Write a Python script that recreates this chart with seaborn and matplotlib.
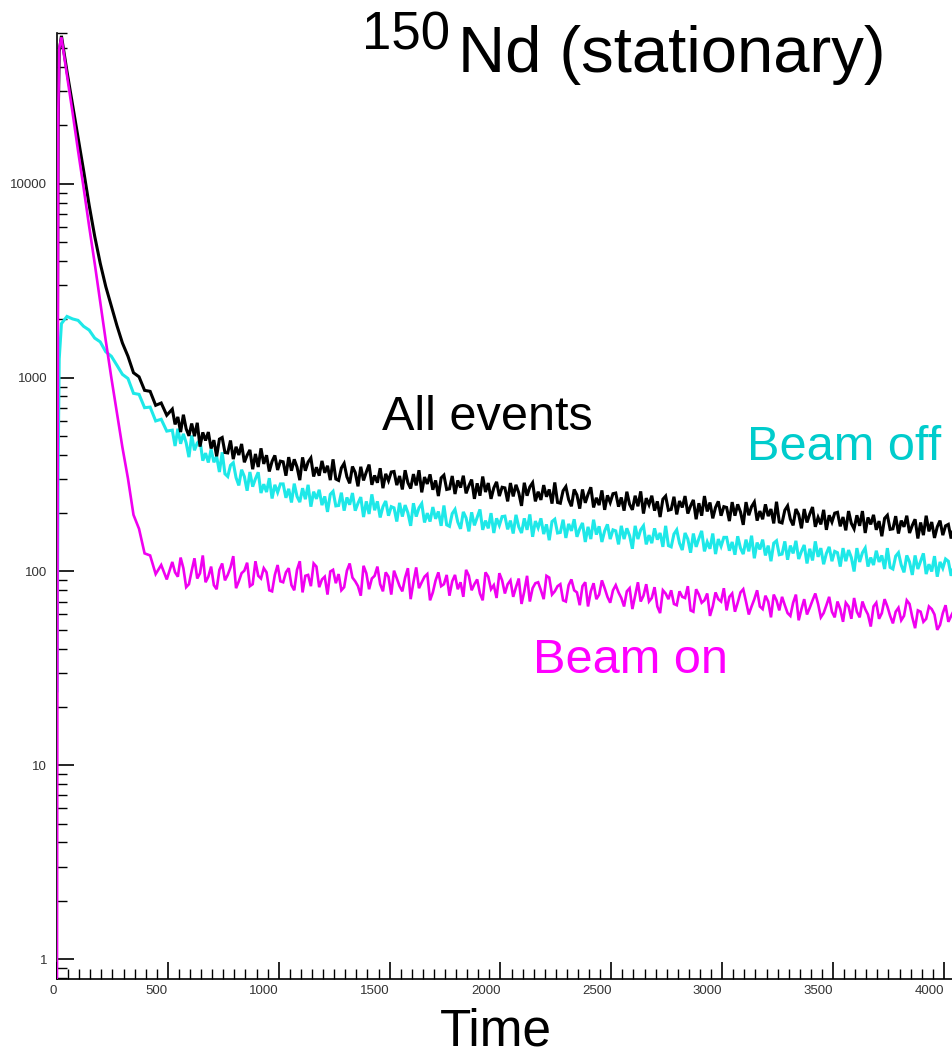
import matplotlib
matplotlib.use("Agg")
import matplotlib.pyplot as plt
import seaborn as sns
import pandas as pd
from matplotlib import ticker

# time bins (channels)
time = [
    0, 5, 10,
    20, 45, 70, 95, 120, 145, 170, 195, 220, 245,
    270, 295, 320, 345, 370, 395, 420, 445, 470, 495,
    520, 545, 570, 595, 620, 645, 670, 695, 720, 745,
    770, 795, 820, 845, 870, 895, 920, 945, 970, 995,
    1020, 1045, 1070, 1095, 1120, 1145, 1170, 1195, 1220, 1245,
    1270, 1295, 1320, 1345, 1370, 1395, 1420, 1445, 1470, 1495,
    1520, 1545, 1570, 1595, 1620, 1645, 1670, 1695, 1720, 1745,
    1770, 1795, 1820, 1845, 1870, 1895, 1920, 1945, 1970, 1995,
    2020, 2045, 2070, 2095, 2120, 2145, 2170, 2195, 2220, 2245,
    2270, 2295, 2320, 2345, 2370, 2395, 2420, 2445, 2470, 2495,
    2520, 2545, 2570, 2595, 2620, 2645, 2670, 2695, 2720, 2745,
    2770, 2795, 2820, 2845, 2870, 2895, 2920, 2945, 2970, 2995,
    3020, 3045, 3070, 3095, 3120, 3145, 3170, 3195, 3220, 3245,
    3270, 3295, 3320, 3345, 3370, 3395, 3420, 3445, 3470, 3495,
    3520, 3545, 3570, 3595, 3620, 3645, 3670, 3695, 3720, 3745,
    3770, 3795, 3820, 3845, 3870, 3895, 3920, 3945, 3970, 3995,
    4020, 4045,
]

all_events = [
    280, 20000, 48000,
    58000, 38000, 25700, 17400, 11700, 7760, 5370, 3890, 2950, 2340,
    1860, 1510, 1290, 1060, 1010, 860, 850, 720, 740, 640,
    688, 627, 644, 501, 499, 441, 474, 431, 393, 491,
    409, 380, 399, 366, 424, 404, 432, 398, 370, 334,
    368, 389, 379, 296, 331, 385, 345, 372, 351, 379,
    295, 361, 285, 324, 347, 326, 280, 287, 269, 294,
    328, 311, 333, 268, 278, 256, 283, 264, 245, 314,
    267, 251, 271, 253, 298, 285, 309, 286, 270, 245,
    270, 286, 280, 218, 246, 287, 258, 279, 265, 288,
    225, 274, 217, 248, 265, 250, 214, 220, 208, 227,
    254, 241, 258, 208, 217, 199, 221, 206, 191, 245,
    209, 197, 214, 199, 234, 225, 245, 227, 214, 194,
    214, 228, 222, 174, 195, 228, 205, 222, 210, 229,
    178, 218, 173, 197, 210, 198, 170, 175, 164, 180,
    202, 191, 205, 166, 172, 158, 175, 164, 152, 195,
    166, 157, 170, 158, 186, 179, 194, 180, 170, 154,
    175, 169,
]

beam_off = [
    24, 340, 1250,
    1900, 2070, 2010, 1975, 1840, 1760, 1600, 1530, 1360, 1290,
    1160, 1040, 990, 830, 820, 700, 705, 598, 610, 530,
    536, 545, 513, 389, 422, 475, 408, 427, 392, 412,
    309, 364, 278, 309, 326, 301, 254, 257, 238, 256,
    283, 267, 284, 228, 236, 216, 237, 220, 203, 259,
    219, 206, 221, 206, 242, 230, 250, 230, 216, 194,
    213, 226, 220, 172, 192, 224, 200, 215, 204, 219,
    171, 209, 166, 189, 202, 190, 164, 167, 158, 173,
    193, 183, 196, 158, 164, 151, 168, 156, 145, 186,
    159, 149, 162, 151, 178, 170, 185, 171, 162, 147,
    162, 172, 167, 131, 147, 172, 154, 167, 158, 172,
    134, 164, 129, 147, 157, 148, 127, 131, 123, 135,
    150, 142, 152, 123, 127, 117, 130, 121, 113, 144,
    123, 115, 124, 116, 137, 131, 143, 132, 124, 113,
    125, 132, 129, 100, 112, 132, 118, 128, 121, 132,
    103, 125, 99, 112, 121, 113, 97, 100, 94, 104,
    113, 107,
]

beam_on = [
    0.8, 20000, 50000,
    57000, 36300, 23400, 14800, 9550, 6030, 3890, 2450, 1550, 1000,
    660, 437, 302, 196, 166, 124, 121, 97, 108, 91,
    112, 94, 104, 86, 117, 98, 88, 106, 81, 110,
    96, 120, 89, 101, 84, 113, 92, 99, 79, 108,
    88, 104, 80, 113, 95, 84, 106, 91, 76, 102,
    97, 83, 110, 89, 75, 98, 92, 106, 79, 94,
    101, 84, 93, 72, 105, 88, 97, 78, 99, 86,
    75, 96, 88, 102, 80, 91, 71, 94, 85, 98,
    77, 90, 83, 68, 95, 82, 88, 72, 93, 79,
    86, 70, 91, 78, 84, 66, 87, 76, 82, 69,
    85, 73, 79, 64, 88, 75, 70, 83, 61, 77,
    80, 67, 74, 84, 62, 76, 71, 59, 78, 70,
    63, 77, 69, 81, 60, 72, 66, 75, 58, 71,
    74, 61, 69, 56, 72, 65, 77, 58, 67, 62,
    70, 55, 66, 73, 58, 64, 52, 69, 61, 66,
    54, 65, 59, 68, 51, 62, 57, 64, 50, 61,
    55, 63,
]

# in-between channels of the flat, noisy part
time_mid = [
    532.5, 557.5, 582.5, 607.5, 632.5, 657.5, 682.5, 707.5, 732.5, 757.5,
    782.5, 807.5, 832.5, 857.5, 882.5, 907.5, 932.5, 957.5, 982.5, 1007.5,
    1032.5, 1057.5, 1082.5, 1107.5, 1132.5, 1157.5, 1182.5, 1207.5, 1232.5, 1257.5,
    1282.5, 1307.5, 1332.5, 1357.5, 1382.5, 1407.5, 1432.5, 1457.5, 1482.5, 1507.5,
    1532.5, 1557.5, 1582.5, 1607.5, 1632.5, 1657.5, 1682.5, 1707.5, 1732.5, 1757.5,
    1782.5, 1807.5, 1832.5, 1857.5, 1882.5, 1907.5, 1932.5, 1957.5, 1982.5, 2007.5,
    2032.5, 2057.5, 2082.5, 2107.5, 2132.5, 2157.5, 2182.5, 2207.5, 2232.5, 2257.5,
    2282.5, 2307.5, 2332.5, 2357.5, 2382.5, 2407.5, 2432.5, 2457.5, 2482.5, 2507.5,
    2532.5, 2557.5, 2582.5, 2607.5, 2632.5, 2657.5, 2682.5, 2707.5, 2732.5, 2757.5,
    2782.5, 2807.5, 2832.5, 2857.5, 2882.5, 2907.5, 2932.5, 2957.5, 2982.5, 3007.5,
    3032.5, 3057.5, 3082.5, 3107.5, 3132.5, 3157.5, 3182.5, 3207.5, 3232.5, 3257.5,
    3282.5, 3307.5, 3332.5, 3357.5, 3382.5, 3407.5, 3432.5, 3457.5, 3482.5, 3507.5,
    3532.5, 3557.5, 3582.5, 3607.5, 3632.5, 3657.5, 3682.5, 3707.5, 3732.5, 3757.5,
    3782.5, 3807.5, 3832.5, 3857.5, 3882.5, 3907.5, 3932.5, 3957.5, 3982.5, 4007.5,
    4032.5,
]

all_events_mid = [
    574, 524, 545, 580, 585, 522, 524, 476, 482, 411,
    474, 440, 455, 398, 337, 346, 359, 328, 397, 371,
    312, 331, 346, 388, 367, 309, 312, 323, 296, 300,
    342, 308, 348, 275, 295, 356, 313, 341, 319, 326,
    279, 265, 287, 318, 333, 307, 317, 295, 304, 265,
    311, 295, 312, 277, 237, 246, 257, 237, 290, 272,
    230, 244, 255, 287, 273, 230, 234, 243, 224, 227,
    261, 235, 265, 211, 226, 272, 240, 262, 247, 252,
    216, 206, 222, 246, 259, 239, 246, 230, 236, 207,
    243, 231, 245, 218, 186, 194, 204, 188, 230, 216,
    182, 194, 203, 228, 216, 183, 186, 193, 177, 180,
    207, 186, 210, 167, 179, 215, 190, 208, 195, 200,
    171, 163, 177, 195, 205, 190, 196, 182, 188, 165,
    193, 183, 194, 173, 148, 154, 161, 149, 183, 172,
    148,
]

beam_off_mid = [
    444, 456, 461, 503, 460, 373, 365, 366, 326, 319,
    353, 305, 335, 261, 274, 325, 282, 303, 280, 283,
    240, 227, 244, 269, 280, 258, 264, 244, 250, 218,
    255, 241, 254, 225, 191, 198, 207, 190, 231, 216,
    181, 192, 201, 225, 213, 179, 181, 187, 172, 174,
    199, 180, 203, 161, 173, 209, 183, 200, 188, 192,
    165, 157, 170, 188, 197, 182, 188, 175, 181, 158,
    185, 176, 186, 166, 142, 147, 155, 142, 175, 164,
    138, 147, 153, 172, 164, 138, 140, 146, 134, 136,
    156, 140, 158, 125, 134, 162, 142, 157, 147, 150,
    128, 122, 132, 146, 153, 141, 146, 136, 140, 122,
    143, 136, 144, 127, 110, 114, 119, 109, 134, 127,
    106, 113, 118, 132, 125, 106, 108, 112, 103, 105,
    120, 108, 121, 96, 103, 124, 109, 120, 112, 116,
    95,
]

beam_on_mid = [
    99, 118, 83, 101, 92, 121, 94, 85, 102, 90,
    105, 82, 98, 111, 86, 95, 104, 80, 96, 89,
    99, 85, 102, 78, 96, 110, 83, 94, 100, 87,
    80, 101, 93, 84, 107, 81, 95, 86, 99, 76,
    92, 79, 104, 88, 82, 94, 71, 90, 84, 96,
    89, 81, 74, 95, 86, 77, 99, 81, 73, 90,
    86, 74, 92, 79, 70, 87, 80, 95, 76, 84,
    71, 85, 80, 67, 88, 79, 72, 90, 74, 80,
    78, 66, 82, 75, 70, 86, 73, 66, 80, 72,
    68, 79, 73, 63, 81, 69, 77, 66, 72, 82,
    74, 62, 78, 70, 66, 80, 64, 70, 76, 63,
    67, 59, 76, 64, 60, 71, 68, 61, 74, 58,
    64, 69, 57, 62, 70, 60, 66, 57, 72, 59,
    62, 56, 71, 58, 63, 55, 66, 60, 53, 67,
    59,
]

series_names = ["Beam off", "All events", "Beam on"]  # draw order
colors = {"All events": "black", "Beam off": "#1EE8E8", "Beam on": "#F000F0"}
widths = {"All events": 2.2, "Beam off": 2.2, "Beam on": 1.9}

frames = []
for name, vals, mids in [("All events", all_events, all_events_mid),
                         ("Beam off", beam_off, beam_off_mid),
                         ("Beam on", beam_on, beam_on_mid)]:
    frames.append(pd.DataFrame({"time": time + time_mid, "counts": vals + mids, "series": name}))
df = pd.concat(frames, ignore_index=True)

sns.set_style("ticks")
plt.rcParams["font.family"] = ["Liberation Sans", "DejaVu Sans"]
plt.rcParams["text.color"] = "black"

fig = plt.figure(figsize=(9.53, 10.56), dpi=100)
ax = fig.add_axes([57 / 953, 77 / 1056, 896 / 953, 946 / 1056])

sns.lineplot(data=df, x="time", y="counts", hue="series", hue_order=series_names,
             palette=colors, estimator=None, legend=False,
             linewidth=1.6, ax=ax)
for line, name in zip(ax.lines, series_names):
    line.set_linewidth(widths[name])
    line.set_zorder(3)
    line.set_solid_joinstyle("miter")

ax.set_yscale("log")
ax.set_xlim(0, 4041)
ax.set_ylim(0.79, 60000)
ax.set_xlabel("")
ax.set_ylabel("")

ax.xaxis.set_major_locator(ticker.MultipleLocator(500))
ax.xaxis.set_minor_locator(ticker.MultipleLocator(50))
ax.yaxis.set_major_locator(ticker.LogLocator(base=10))
ax.yaxis.set_minor_locator(ticker.LogLocator(base=10, subs=range(2, 10)))
ax.yaxis.set_major_formatter(ticker.FuncFormatter(lambda v, p: f"{v:g}"))
ax.yaxis.set_minor_formatter(ticker.NullFormatter())

ax.tick_params(which="major", direction="in", length=12, width=1.2,
               color="black", labelsize=9.5, labelcolor="#333333")
ax.tick_params(which="minor", direction="in", length=7, width=1, color="black")
ax.tick_params(axis="x", which="major", pad=4)
ax.tick_params(axis="y", which="major", pad=7)
plt.setp(ax.get_xticklabels(), ha="right")

sns.despine(ax=ax)
for s in ["left", "bottom"]:
    ax.spines[s].set_linewidth(1.2)
    ax.spines[s].set_color("black")

# title with superscript mass number
fig.text(362 / 953, 1 - 50 / 1056, "150", fontsize=38, ha="left", va="baseline")
fig.text(458 / 953, 1 - 72 / 1056, "Nd (stationary)", fontsize=47, ha="left", va="baseline")

# curve labels
fig.text(382 / 953, 1 - 430 / 1056, "All events", fontsize=35, color="black", va="baseline")
fig.text(747 / 953, 1 - 460 / 1056, "Beam off", fontsize=35, color="#00CCCC", va="baseline")
fig.text(533 / 953, 1 - 673 / 1056, "Beam on", fontsize=35, color="#FF00FF", va="baseline")

fig.text(496 / 953, 1 - 1045 / 1056, "Time", fontsize=37, ha="center", va="baseline")

fig.savefig("out.png", dpi=100)
